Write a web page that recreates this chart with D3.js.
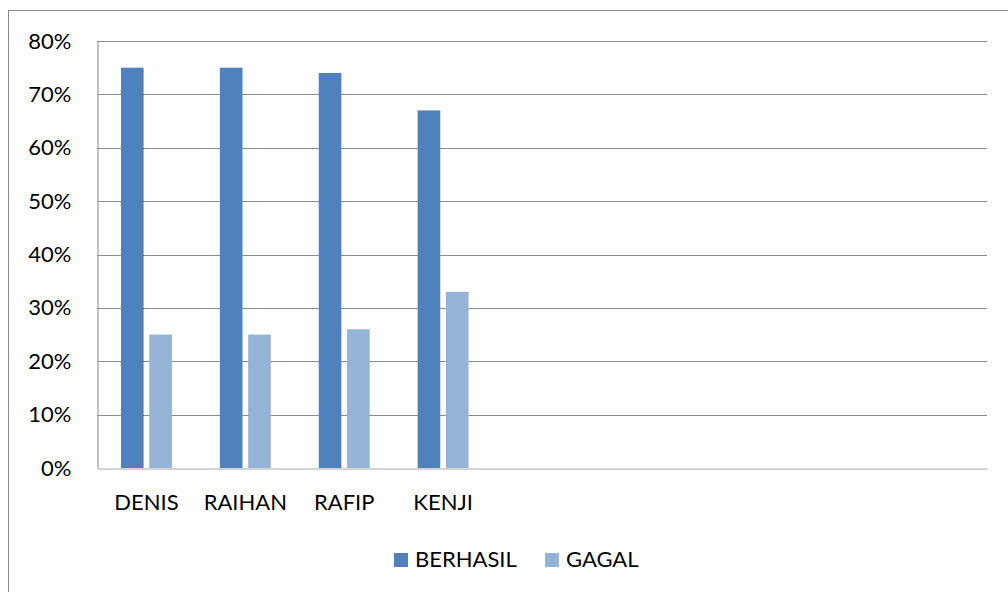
<!DOCTYPE html>
<html>
<head>
<meta charset="utf-8">
<script src="https://cdn.jsdelivr.net/npm/d3@7"></script>
<style>
  html, body { margin: 0; padding: 0; background: #fff; }
  svg { display: block; }
  text { font-family: Lato, "Open Sans", sans-serif; fill: #000; }
</style>
</head>
<body>
<svg id="chart" width="1008" height="592"></svg>
<script>
// ---- data ----
const categories = ["DENIS", "RAIHAN", "RAFIP", "KENJI", "", "", "", "", ""];
const seriesNames = ["BERHASIL", "GAGAL"];
const berhasil = [0.75, 0.75, 0.74, 0.67];
const gagal = [0.25, 0.25, 0.26, 0.33];
const yTicks = [0, 0.1, 0.2, 0.3, 0.4, 0.5, 0.6, 0.7, 0.8];
const colors = ["#4F81BD", "#95B3D7"];

// ---- layout ----
const W = 1008, H = 592;
const plot = { left: 97, right: 987, top: 41, bottom: 468 };
const svg = d3.select("#chart");

// outer chart border
svg.append("rect")
  .attr("x", 8.5).attr("y", 10.5)
  .attr("width", 1010).attr("height", 600)
  .attr("fill", "none").attr("stroke", "#8c8c8c").attr("stroke-width", 1);

const x0 = d3.scaleBand()
  .domain(categories.map((d, i) => i))
  .range([plot.left, plot.right])
  .padding(0);

const groupW = x0.bandwidth() * 0.515;
const x1 = d3.scaleBand()
  .domain(seriesNames)
  .range([(x0.bandwidth() - groupW) / 2, (x0.bandwidth() + groupW) / 2])
  .paddingInner(0.2);

const y = d3.scaleLinear().domain([0, 0.8]).range([plot.bottom, plot.top]);

// gridlines
svg.append("g")
  .selectAll("line")
  .data(yTicks.filter(t => t > 0))
  .join("line")
  .attr("x1", plot.left).attr("x2", plot.right)
  .attr("y1", d => Math.round(y(d)) + 0.5).attr("y2", d => Math.round(y(d)) + 0.5)
  .attr("stroke", "#8c8c8c").attr("stroke-width", 1);

// y axis
const yAxis = svg.append("g")
  .attr("transform", `translate(${plot.left + 0.5},0)`)
  .call(d3.axisLeft(y).tickValues(yTicks).tickFormat(d3.format(".0%")).tickSize(0).tickPadding(26));
yAxis.select(".domain").attr("stroke", "#8c8c8c");
yAxis.selectAll("text").attr("font-size", 22).attr("font-family", "Lato").attr("fill", "#000");

// bars
const rows = categories.map((c, i) => ({ i, c, vals: [berhasil[i], gagal[i]] }))
  .filter(r => r.vals[0] !== undefined);

const groups = svg.append("g").selectAll("g")
  .data(rows)
  .join("g")
  .attr("transform", d => `translate(${x0(d.i)},0)`);

groups.selectAll("rect")
  .data(d => seriesNames.map((s, k) => ({ s, k, v: d.vals[k] })))
  .join("rect")
  .attr("x", d => x1(d.s))
  .attr("width", x1.bandwidth())
  .attr("y", d => y(d.v))
  .attr("height", d => y(0) - y(d.v))
  .attr("fill", d => colors[d.k]);

// x axis
const xAxis = svg.append("g")
  .attr("transform", `translate(0,${plot.bottom + 0.5})`)
  .call(d3.axisBottom(x0).tickFormat(i => categories[i]).tickSize(0).tickPadding(26));
xAxis.select(".domain").attr("stroke", "#a6a6a6");
xAxis.selectAll("text").attr("font-size", 22).attr("font-family", "Lato").attr("fill", "#000");

// legend
const legend = svg.append("g");
const legendItems = [
  { name: seriesNames[0], color: colors[0], x: 394 },
  { name: seriesNames[1], color: colors[1], x: 545 }
];
legendItems.forEach(it => {
  legend.append("rect")
    .attr("x", it.x).attr("y", 553)
    .attr("width", 14).attr("height", 14)
    .attr("fill", it.color);
  legend.append("text")
    .attr("x", it.x + 21).attr("y", 567)
    .attr("font-size", 22)
    .text(it.name);
});
</script>
</body>
</html>
